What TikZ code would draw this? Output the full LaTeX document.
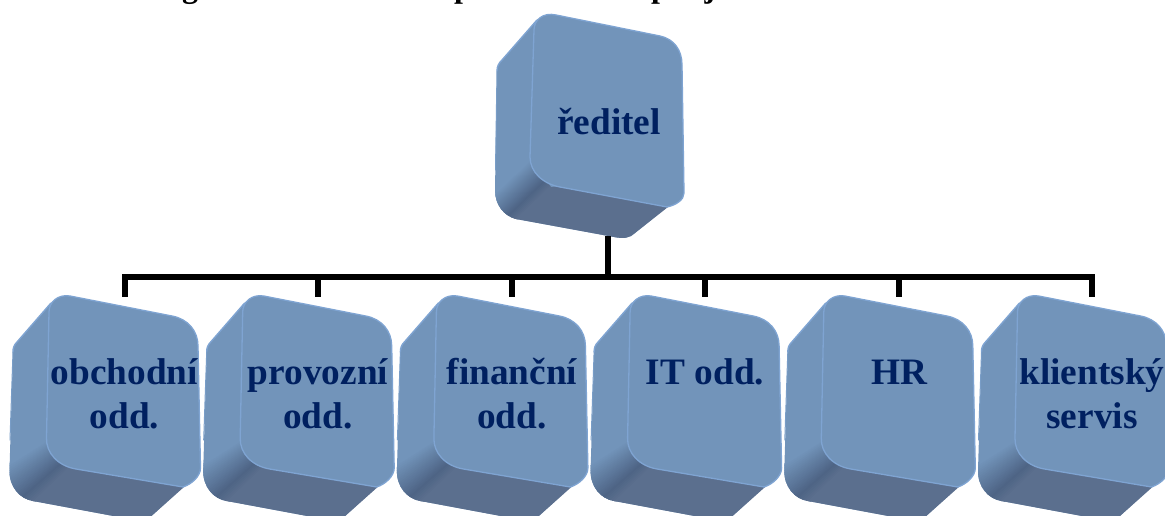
\documentclass[tikz,border=0pt]{standalone}
\usepackage{fontspec}
\setmainfont{Liberation Serif}
\usetikzlibrary{calc}
\definecolor{faceblue}{HTML}{7294BA}
\definecolor{rimblue}{HTML}{7FA4D2}
\definecolor{darkface}{HTML}{5B6F8E}
\definecolor{deepface}{HTML}{4E6485}
\definecolor{labelblue}{HTML}{002060}
\tikzset{
  x=1pt,y=-1pt,
  lbl/.style={font=\bfseries\fontsize{37.3}{44}\selectfont,text=labelblue,align=center,inner sep=0pt,anchor=base},
  bus/.style={draw=black,line width=6pt,line cap=butt},
  body/.style={fill=faceblue},
  rim/.style={draw=rimblue,line width=1.4pt,line cap=round},
  under/.style={fill=darkface},
  front/.style={fill=faceblue,draw=rimblue,line width=1.3pt},
  frag/.style={font=\bfseries\fontsize{32}{32}\selectfont,inner sep=0pt,anchor=base}
}
% strips: from segment (#1)-(#2) to segment (#3)-(#4)
\newcommand{\cornerstrips}[4]{%
  \foreach \k in {0,...,24}{%
    \pgfmathsetmacro{\ta}{\k/25}%
    \pgfmathsetmacro{\tb}{(\k+1.3)/25}%
    \pgfmathsetmacro{\mixv}{\k<18 ? 100-\k*100/18 : 0}%
    \pgfmathsetmacro{\mixw}{\k<18 ? 0 : (\k-18)*100/6}%
    \colorlet{stripcol}{darkface!\mixw!deepface}%
    \fill[color=faceblue!\mixv!stripcol]
      ($(#1)!\ta!(#3)$) -- ($(#2)!\ta!(#4)$) -- ($(#2)!\tb!(#4)$) -- ($(#1)!\tb!(#3)$) -- cycle;
  }%
}
\newcommand{\lowerblock}[1]{%
  \begin{scope}[shift={(#1,0)}]
    \path[body] (52,302) -- (17,342) .. controls (14,345) and (13,348) .. (13,352)
      -- (9.5,470) .. controls (9,487) and (20,499) .. (33,501)
      -- (135,520) -- (147,520) -- (183,487) -- (150,400) -- (68,296) -- cycle;
    \begin{scope}
      \clip (13,352) -- (9.5,470) .. controls (9,487) and (20,499) .. (33,501)
      -- (135,520) -- (147,520) -- (184,487) -- (73,440) -- (47,430) -- cycle;
      \fill[under] (55,470) -- (15,521) -- (140,530) -- (190,486) -- (73,465) -- cycle;
      \cornerstrips{-6,473}{47,440}{15,521}{70,468}
    \end{scope}
    \path[rim] (51,303) -- (17,342) .. controls (14,345) and (13,348) .. (13,352);
    \path[rim,draw=rimblue!55!faceblue,line width=1pt] (13,352) -- (10,440);
    \path[front] (49,312) .. controls (49,302) and (58,294) .. (70,296)
      -- (172,316) .. controls (188,319) and (198,331) .. (198,346)
      -- (200.5,468) .. controls (200.5,476) and (192,484) .. (183,487)
      -- (76,469) .. controls (58,466) and (46,453) .. (46.5,438) -- cycle;
  \end{scope}%
}
\begin{document}
\begin{tikzpicture}
\useasboundingbox (0,0) rectangle (1165,516);
\clip (0,0) rectangle (1165,516);
\fill[white] (0,0) rectangle (1165,516);

% clipped remains of the heading line
\node[frag] (fragg) at (190,-2) {g};
\node[frag] (fragp) at (463,-2) {p};
\node[frag] (fragq) at (660,-2) {p};
\node[frag] (fragj) at (710,-2) {j};

% director block
\path[body] (538,19) -- (502,60) .. controls (499,63) and (497,66) .. (497,71)
  -- (495,190) .. controls (495,205) and (504,216) .. (516,219)
  -- (614,237) .. controls (624,239) and (630,238) .. (635,233) -- (667,207)
  -- (640,100) -- (553,15) -- cycle;
\begin{scope}
  \clip (497,71) -- (495,190) .. controls (495,205) and (504,216) .. (516,219)
    -- (614,237) .. controls (624,239) and (630,238) .. (635,233) -- (668,207)
    -- (558,160) -- (530,150) -- cycle;
  \fill[under] (535,190) -- (500,236) -- (620,245) -- (672,206) -- (558,186) -- cycle;
  \cornerstrips{480,207}{530,160}{500,236}{551,187}
\end{scope}
\path[rim] (537,20) -- (502,60) .. controls (499,63) and (497,66) .. (497,71);
\path[rim,draw=rimblue!55!faceblue,line width=1pt] (497,71) -- (495.5,170);
\path[front] (534,30) .. controls (534,20) and (543,12) .. (556,15)
  -- (660,36) .. controls (674,39) and (682,50) .. (682,65)
  -- (684,193) .. controls (684,200) and (676,205) .. (667,207)
  -- (560,187) .. controls (543,184) and (530,172) .. (530,157) -- cycle;

\lowerblock{0}
\lowerblock{193.7}
\lowerblock{387.4}
\lowerblock{581.1}
\lowerblock{774.8}
\lowerblock{968.5}

% labels
\node[lbl] (dir) at (609,135) {ředitel};
\node[lbl] (n1) at (124.5,428) {obchodní\\odd.};
\node[lbl] (n2) at (318,428) {provozní\\odd.};
\node[lbl] (n3) at (512,428) {finanční\\odd.};
\node[lbl] (n4) at (705,384) {IT odd.};
\node[lbl] (n5) at (899,384) {HR};
\node[lbl] (n6) at (1092,428) {klientský\\servis};

% connectors
\coordinate (trunktop) at (608,236);
\coordinate (trunkfoot) at (608,277);
\coordinate (busl) at (122,277);
\coordinate (busr) at (1095,277);
\coordinate (t1) at (125,297);
\coordinate (t2) at (318,297);
\coordinate (t3) at (512,297);
\coordinate (t4) at (705,297);
\coordinate (t5) at (899,297);
\coordinate (t6) at (1092,297);
\draw[bus] (trunktop) -- (trunkfoot);
\draw[bus] (busl) -- (busr);
\foreach \t in {t1,t2,t3,t4,t5,t6}{
  \draw[bus] (\t |- trunkfoot) -- (\t);
}
\end{tikzpicture}
\end{document}
